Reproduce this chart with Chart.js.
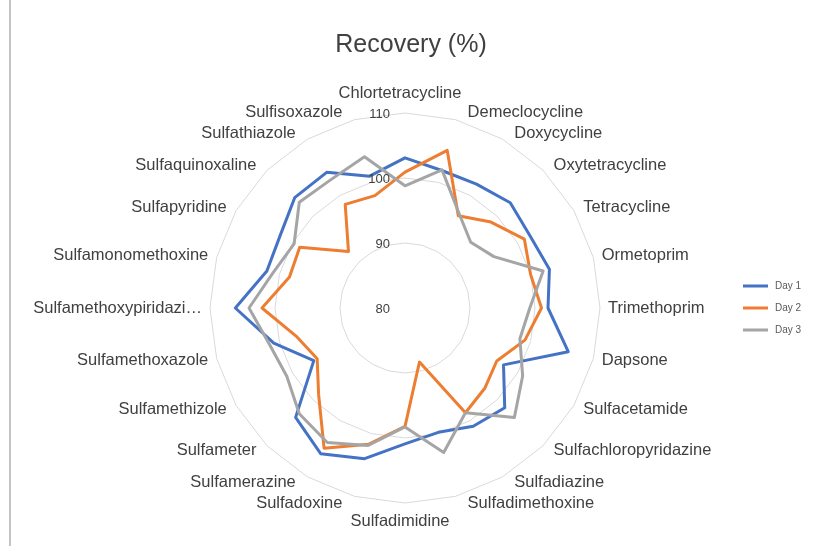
<!DOCTYPE html>
<html lang="en">
  <head>
    <meta charset="UTF-8" />
    <title>Recovery (%)</title>
    <script src="https://cdn.jsdelivr.net/npm/chart.js"></script>
    <style>
      body,
      html {
        margin: 0;
        padding: 0;
        background: #fff;
      }
      .wrap {
        position: relative;
        width: 816px;
        height: 546px;
      }
      .edge {
        position: absolute;
        left: 9px;
        top: 0;
        width: 2px;
        height: 546px;
        background: #c4c4c4;
      }
      canvas {
        display: block;
      }
    </style>
  </head>
  <body>
    <div class="wrap">
      <canvas id="myChart" width="816" height="546"></canvas>
      <div class="edge"></div>
    </div>
    <script>
      const compounds = [
        "Chlortetracycline", "Demeclocycline", "Doxycycline", "Oxytetracycline",
        "Tetracycline", "Ormetoprim", "Trimethoprim", "Dapsone",
        "Sulfacetamide", "Sulfachloropyridazine", "Sulfadiazine", "Sulfadimethoxine",
        "Sulfadimidine", "Sulfadoxine", "Sulfamerazine", "Sulfameter",
        "Sulfamethizole", "Sulfamethoxazole", "Sulfamethoxypiridazi…", "Sulfamonomethoxine",
        "Sulfapyridine", "Sulfaquinoxaline", "Sulfathiazole", "Sulfisoxazole",
      ];
      const day1 = [103.1, 101.9, 102.0, 102.9, 102.2, 103.0, 102.0, 106.0, 97.5, 101.7, 101.0, 99.8,
                    100.9, 104.0, 105.9, 103.8, 96.2, 100.9, 106.1, 102.0, 102.2, 104.0, 104.1, 101.0];
      const day2 = [100.9, 105.1, 96.4, 98.7, 101.2, 100.0, 101.0, 99.1, 96.3, 97.4, 98.6, 88.6,
                    98.2, 101.7, 104.9, 98.8, 95.6, 97.2, 102.0, 98.4, 98.7, 92.3, 98.4, 97.9];
      const day3 = [98.8, 102.0, 96.7, 94.3, 95.8, 102.0, 99.2, 98.3, 100.9, 103.8, 98.6, 103.0,
                    98.3, 101.9, 103.9, 103.0, 101.0, 101.6, 104.0, 101.0, 99.7, 103.0, 102.8, 104.1];
      const seriesNames = ["Day 1", "Day 2", "Day 3"];
      const seriesColors = ["#4472C4", "#ED7D31", "#A5A5A5"];
      const chartTitle = "Recovery (%)";

      const FONT = "'Liberation Sans', Arial, sans-serif";

      // Excel-like labels, ticks, title and legend drawn on top of the radar scale
      const excelLook = {
        id: "excelLook",
        afterDraw(chart) {
          const ctx = chart.ctx;
          const scale = chart.scales.r;
          ctx.save();

          // title
          ctx.fillStyle = "#404040";
          ctx.font = "25px " + FONT;
          ctx.textAlign = "center";
          ctx.textBaseline = "middle";
          ctx.fillText(chartTitle, 411, 45);

          // category labels around the outer ring
          ctx.font = "16.5px " + FONT;
          chart.data.labels.forEach((label, i) => {
            const a = scale.getIndexAngle(i);
            const s = Math.sin(a);
            const c = Math.cos(a);
            const p = scale.getPointPosition(i, scale.drawingArea + 4.5);
            let x = p.x;
            let y = p.y;
            if (Math.abs(s) < 0.01) {
              ctx.textAlign = "center";
              x -= 5;
              y += c > 0 ? -15 : 14;
            } else {
              const off = 3.5 + 8 * c * c;
              ctx.textAlign = s > 0 ? "left" : "right";
              x += s > 0 ? off : -off;
              y -= 2.5 * c;
            }
            ctx.fillText(label, x, y);
          });

          // value ticks left of the vertical axis
          ctx.font = "13px " + FONT;
          ctx.textAlign = "right";
          scale.ticks.forEach((t) => {
            const d = scale.getDistanceFromCenterForValue(t.value);
            ctx.fillText(String(t.value), scale.xCenter - 15, scale.yCenter - d + 1);
          });

          // legend
          ctx.font = "10px " + FONT;
          ctx.textAlign = "left";
          chart.data.datasets.forEach((ds, i) => {
            const ly = 286 + i * 22;
            ctx.strokeStyle = ds.borderColor;
            ctx.lineWidth = 3;
            ctx.beginPath();
            ctx.moveTo(743, ly);
            ctx.lineTo(768, ly);
            ctx.stroke();
            ctx.fillStyle = "#595959";
            ctx.fillText(ds.label, 775, ly);
          });
          ctx.restore();
        },
      };

      const values = [day1, day2, day3];
      new Chart(document.getElementById("myChart"), {
        type: "radar",
        data: {
          labels: compounds,
          datasets: values.map((v, i) => ({
            label: seriesNames[i],
            data: v,
            borderColor: seriesColors[i],
            backgroundColor: seriesColors[i],
            borderWidth: 3,
            borderJoinStyle: "round",
            pointRadius: 0,
            fill: false,
            tension: 0,
            order: 3 - i,
          })),
        },
        options: {
          responsive: false,
          animation: false,
          layout: { padding: { top: 113, left: 209, right: 215, bottom: 42 } },
          plugins: {
            legend: { display: false },
            title: { display: false },
            tooltip: { enabled: false },
          },
          scales: {
            r: {
              min: 80,
              max: 110,
              ticks: { display: false, stepSize: 10 },
              grid: { color: "#d9d9d9", lineWidth: 1 },
              angleLines: { display: false },
              pointLabels: { display: false },
            },
          },
        },
        plugins: [excelLook],
      });
    </script>
  </body>
</html>
